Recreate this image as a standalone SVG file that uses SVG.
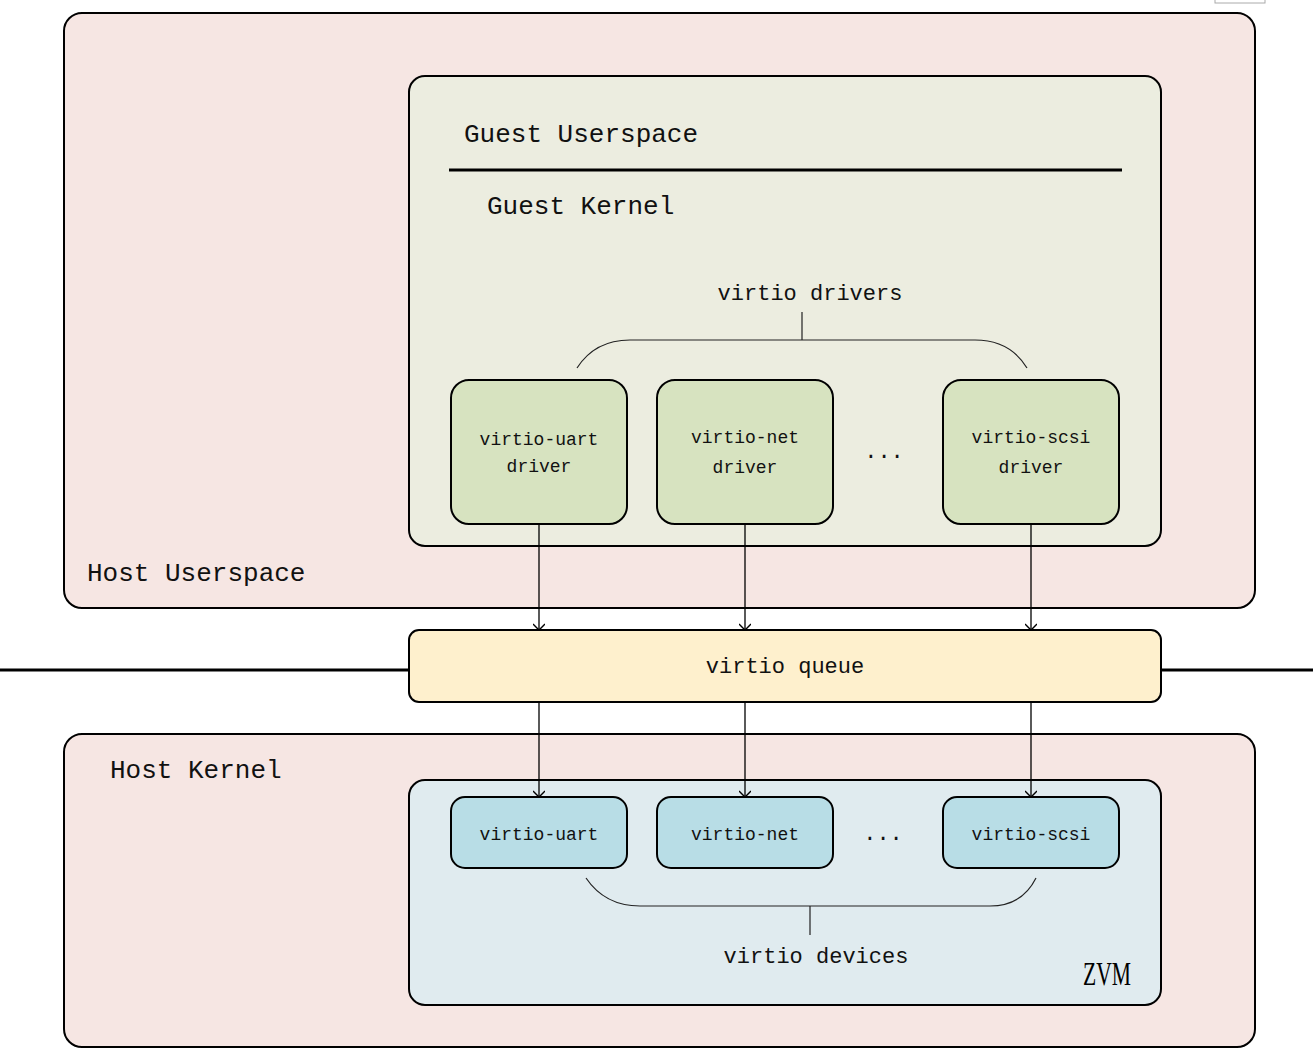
<svg xmlns="http://www.w3.org/2000/svg" width="1313" height="1058" viewBox="0 0 1313 1058">
<defs>
<marker id="arr" viewBox="0 0 12 12" refX="11" refY="6" markerWidth="12" markerHeight="12" markerUnits="userSpaceOnUse" orient="auto">
<path d="M5,0 L11,6 L5,12" fill="none" stroke="#000" stroke-width="1.4"/>
</marker>
</defs>
<style>
text{font-family:"Liberation Mono","DejaVu Sans Mono",monospace;fill:#111}
.big{font-size:26px}
.mid{font-size:22px}
.sm{font-size:18px}
.box{stroke:#000;stroke-width:2}
.pink{fill:#f6e6e3}
.drv{fill:#d7e3c0}
.dev{fill:#b8dde6}
.conn{stroke:#000;stroke-width:1.3;fill:none}
.brace{stroke:#222;stroke-width:1.2;fill:none}
</style>
<rect x="1215" y="-20" width="50" height="23" fill="none" stroke="#aaa" stroke-width="1"/>
<g id="host-userspace">
<rect class="box pink" x="64" y="13" width="1191" height="595" rx="18"/>
<text class="big" x="87" y="581">Host Userspace</text>
</g>
<g id="guest">
<rect class="box" x="409" y="76" width="752" height="470" rx="16" fill="#ecede0"/>
<text class="big" x="464" y="142">Guest Userspace</text>
<line x1="449" y1="170" x2="1122" y2="170" stroke="#000" stroke-width="3"/>
<text class="big" x="487" y="214">Guest Kernel</text>
<text class="mid" x="810" y="300" text-anchor="middle">virtio drivers</text>
<path class="brace" d="M577,368 Q595,340 630,340 L975,340 Q1010,340 1027,368 M802,312 L802,340"/>
<text class="mid" x="884" y="458" text-anchor="middle">...</text>
</g>
<g id="virtio-uart-driver">
<rect class="box drv" x="451" y="380" width="176" height="144" rx="18"/>
<text class="sm" x="539" y="445" text-anchor="middle">virtio-uart</text>
<text class="sm" x="539" y="472" text-anchor="middle">driver</text>
</g>
<g id="virtio-net-driver">
<rect class="box drv" x="657" y="380" width="176" height="144" rx="18"/>
<text class="sm" x="745" y="443" text-anchor="middle">virtio-net</text>
<text class="sm" x="745" y="473" text-anchor="middle">driver</text>
</g>
<g id="virtio-scsi-driver">
<rect class="box drv" x="943" y="380" width="176" height="144" rx="18"/>
<text class="sm" x="1031" y="443" text-anchor="middle">virtio-scsi</text>
<text class="sm" x="1031" y="473" text-anchor="middle">driver</text>
</g>
<line x1="0" y1="670" x2="1313" y2="670" stroke="#000" stroke-width="3"/>
<g id="virtio-queue">
<rect class="box" x="409" y="630" width="752" height="72" rx="10" fill="#fef0cd"/>
<text class="mid" x="785" y="673" text-anchor="middle">virtio queue</text>
</g>
<g id="host-kernel">
<rect class="box pink" x="64" y="734" width="1191" height="313" rx="18"/>
<text class="big" x="110" y="778">Host Kernel</text>
</g>
<g id="zvm">
<rect class="box" x="409" y="780" width="752" height="225" rx="16" fill="#e0ebef"/>
<text x="1107" y="985" text-anchor="middle" textLength="48" lengthAdjust="spacingAndGlyphs" style="font-family:'Liberation Serif','Times New Roman',serif;font-size:33px;fill:#000">ZVM</text>
<text class="mid" x="883" y="840" text-anchor="middle">...</text>
<path class="brace" d="M586,878 Q605,906 640,906 L990,906 Q1022,906 1036,878 M810,906 L810,935"/>
<text class="mid" x="816" y="963" text-anchor="middle">virtio devices</text>
</g>
<g id="virtio-uart">
<rect class="box dev" x="451" y="797" width="176" height="71" rx="14"/>
<text class="sm" x="539" y="840" text-anchor="middle">virtio-uart</text>
</g>
<g id="virtio-net">
<rect class="box dev" x="657" y="797" width="176" height="71" rx="14"/>
<text class="sm" x="745" y="840" text-anchor="middle">virtio-net</text>
</g>
<g id="virtio-scsi">
<rect class="box dev" x="943" y="797" width="176" height="71" rx="14"/>
<text class="sm" x="1031" y="840" text-anchor="middle">virtio-scsi</text>
</g>
<g id="connectors">
<line class="conn" x1="539" y1="524" x2="539" y2="630" marker-end="url(#arr)"/>
<line class="conn" x1="745" y1="524" x2="745" y2="630" marker-end="url(#arr)"/>
<line class="conn" x1="1031" y1="524" x2="1031" y2="630" marker-end="url(#arr)"/>
<line class="conn" x1="539" y1="702" x2="539" y2="797" marker-end="url(#arr)"/>
<line class="conn" x1="745" y1="702" x2="745" y2="797" marker-end="url(#arr)"/>
<line class="conn" x1="1031" y1="702" x2="1031" y2="797" marker-end="url(#arr)"/>
</g>
</svg>
